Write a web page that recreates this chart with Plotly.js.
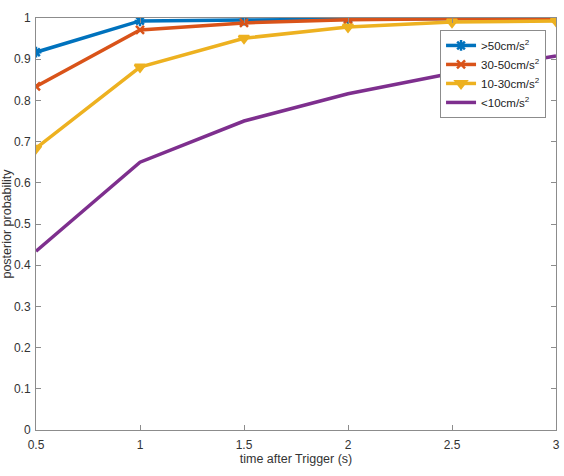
<!DOCTYPE html>
<html>
<head>
<meta charset="utf-8">
<script src="https://cdn.plot.ly/plotly-3.0.1.min.js"></script>
<style>
  html, body { margin: 0; padding: 0; background: #fff; }
  #chart { width: 564px; height: 476px; }
</style>
</head>
<body>
<div id="chart"></div>
<script>
// Time after trigger (s)
const times = [0.5, 1, 1.5, 2, 2.5, 3];

// Posterior probability per acceleration class
const seriesNames = ['>50cm/s<sup>2</sup>', '30-50cm/s<sup>2</sup>', '10-30cm/s<sup>2</sup>', '<10cm/s<sup>2</sup>'];
const above50 = [0.917, 0.993, 0.995, 0.998, 0.999, 0.999];
const from30to50 = [0.834, 0.971, 0.988, 0.996, 0.998, 0.999];
const from10to30 = [0.684, 0.881, 0.951, 0.978, 0.990, 0.993];
const below10 = [0.434, 0.650, 0.750, 0.816, 0.866, 0.908];

const xTicks = [0.5, 1, 1.5, 2, 2.5, 3];
const xTickText = ['0.5', '1', '1.5', '2', '2.5', '3'];
const yTicks = [0, 0.1, 0.2, 0.3, 0.4, 0.5, 0.6, 0.7, 0.8, 0.9, 1];
const yTickText = ['0', '0.1', '0.2', '0.3', '0.4', '0.5', '0.6', '0.7', '0.8', '0.9', '1'];

const colors = ['#0072BD', '#D95319', '#EDB120', '#7E2F8E'];
const symbols = ['asterisk-open', 'x-thin-open', 'triangle-down', null];
const markerSizes = [9, 8, 9, 0];
const values = [above50, from30to50, from10to30, below10];

const traces = values.map((ys, i) => {
  const t = {
    x: times,
    y: ys,
    name: seriesNames[i],
    type: 'scatter',
    mode: symbols[i] ? 'lines+markers' : 'lines',
    line: { color: colors[i], width: 3.5 },
  };
  if (symbols[i]) {
    t.marker = {
      symbol: symbols[i],
      size: markerSizes[i],
      color: colors[i],
      line: { color: colors[i], width: 2.5 }
    };
  }
  return t;
});

const FONT = 'Liberation Sans, Arial, sans-serif';

const axisCommon = {
  showline: true,
  linecolor: '#8c8c8c',
  linewidth: 1,
  mirror: 'ticks',
  ticks: 'inside',
  ticklen: 5,
  tickcolor: '#8c8c8c',
  showgrid: false,
  zeroline: false,
  tickfont: { family: FONT, size: 12, color: '#333' }
};

const layout = {
  width: 564,
  height: 476,
  margin: { l: 36, r: 8, t: 18, b: 46 },
  paper_bgcolor: '#fff',
  plot_bgcolor: '#fff',
  font: { family: FONT, size: 12, color: '#333' },
  xaxis: Object.assign({}, axisCommon, {
    range: [0.5, 3],
    tickmode: 'array',
    tickvals: xTicks,
    ticktext: xTickText,
    ticklabelstandoff: 4,
    title: { text: 'time after Trigger (s)', font: { family: FONT, size: 12.5, color: '#333' }, standoff: 2 }
  }),
  yaxis: Object.assign({}, axisCommon, {
    range: [0, 1],
    tickmode: 'array',
    tickvals: yTicks,
    ticktext: yTickText,
    ticklabelstandoff: 2,
    title: { text: 'posterior probability', font: { family: FONT, size: 12.5, color: '#333' }, standoff: 2 }
  }),
  legend: {
    x: 0.777,
    y: 0.971,
    xanchor: 'left',
    yanchor: 'top',
    bgcolor: '#fff',
    bordercolor: '#8c8c8c',
    borderwidth: 1,
    font: { family: FONT, size: 11.5, color: '#222' },
    itemwidth: 30,
    tracegroupgap: 0
  },
  showlegend: true
};

Plotly.newPlot('chart', traces, layout, { displayModeBar: false, staticPlot: true });
</script>
</body>
</html>
